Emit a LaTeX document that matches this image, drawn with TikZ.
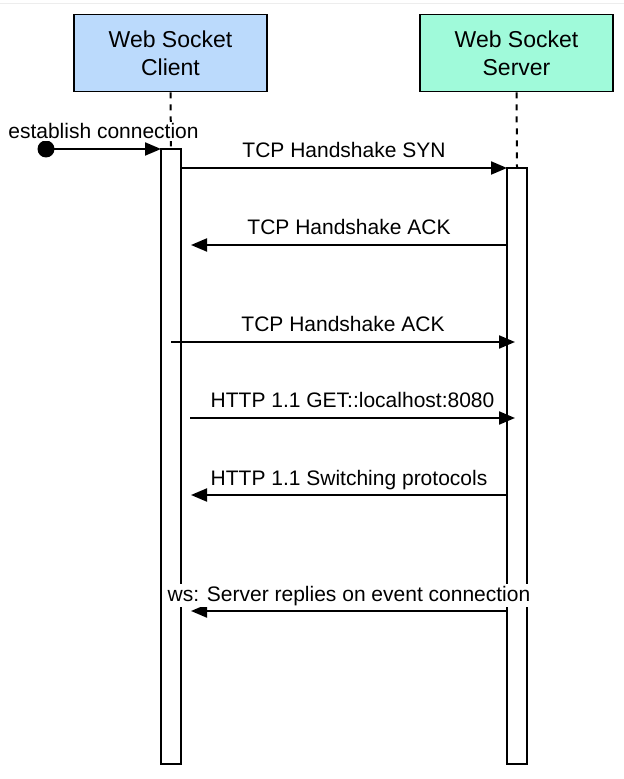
\documentclass[tikz,border=0pt]{standalone}
\usepackage{fontspec}
\setmainfont{Liberation Sans}
\usetikzlibrary{arrows.meta}
\definecolor{clientblue}{RGB}{187,218,252}
\definecolor{servergreen}{RGB}{160,250,218}
\begin{document}
\begin{tikzpicture}[x=0.5pt, y=-0.5pt, line width=1pt,
  actor/.style={draw, thick, minimum width=96.5pt, minimum height=38.5pt, align=center, font=\fontsize{11.5}{14}\selectfont},
  bar/.style={draw, fill=white, minimum width=10pt, inner sep=0pt},
  msg/.style={-{Triangle[length=8pt, width=6.5pt]}},
  lbl/.style={midway, anchor=base, yshift=5pt, fill=white, inner sep=1pt, font=\fontsize{10.5}{12}\selectfont}]
\useasboundingbox (0,0) rectangle (624,779);
\draw [black!7, line width=0.5pt] (0,4) -- (624,4);
\node [actor, fill=clientblue] (client) at (170.5, 53) {Web Socket\\Client};
\node [actor, fill=servergreen] (server) at (516.5, 53) {Web Socket\\Server};
\draw [dashed] (client.south) -- (171, 149);
\draw [dashed] (server.south) -- (517, 168);
\node [bar, minimum height=307.5pt] (cbar) at (171, 456.5) {};
\node [bar, minimum height=298pt] (sbar) at (517, 466) {};
\node [circle, fill, inner sep=0pt, minimum size=8.5pt] (start) at (46, 149) {};
\coordinate (c0) at (161, 149);
\draw [msg] (start.center) -- (c0) node [lbl] (t0) {establish connection};
\coordinate (c1) at (181, 168);  \coordinate (s1) at (507, 168);
\coordinate (c2) at (191, 245);  \coordinate (s2) at (507, 245);
\coordinate (c3) at (171, 342);  \coordinate (s3) at (515, 342);
\coordinate (c4) at (190, 418);  \coordinate (s4) at (515, 418);
\coordinate (c5) at (191, 495);  \coordinate (s5) at (507, 495);
\coordinate (c6) at (191, 611);  \coordinate (s6) at (507, 611);
\draw [msg] (c1) -- (s1) node [lbl] (t1) {TCP Handshake SYN};
\draw [msg] (s2) -- (c2) node [lbl] (t2) {TCP Handshake ACK};
\draw [msg] (c3) -- (s3) node [lbl] (t3) {TCP Handshake ACK};
\draw [msg] (c4) -- (s4) node [lbl] (t4) {HTTP 1.1 GET::localhost:8080};
\draw [msg] (s5) -- (c5) node [lbl] (t5) {HTTP 1.1 Switching protocols};
\draw [msg] (s6) -- (c6) node [lbl] (t6) {ws: Server replies on event connection};
\end{tikzpicture}
\end{document}
